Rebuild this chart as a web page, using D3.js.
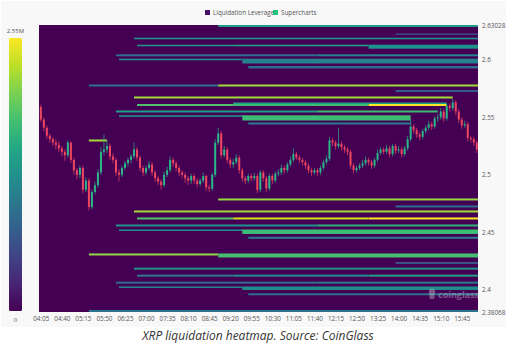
<!DOCTYPE html>
<html><head><meta charset="utf-8">
<script src="https://cdn.jsdelivr.net/npm/d3@7"></script>
<style>
body{margin:0;background:#fff;}
svg{display:block;font-family:'Open Sans',sans-serif;}
</style>
</head><body>
<svg id="chart" width="515" height="344"></svg>
<script>
// ---------- DATA ----------
const timeTicks = ["04:05","04:40","05:15","05:50","06:25","07:00","07:35","08:10","08:45","09:20","09:55","10:30","11:05","11:40","12:15","12:50","13:25","14:00","14:35","15:10","15:45"];
const timeDomain = ["04:02","16:12"];
const priceTicks = [2.63028, 2.6, 2.55, 2.5, 2.45, 2.4, 2.38068];
const priceTickLabels = ["2.63028","2.6","2.55","2.5","2.45","2.4","2.38068"];
const priceDomain = [2.38068, 2.63028];
const colorMax = 2550000;
const colorLabels = ["2.55M","0"];
const legendNames = ["Liquidation Leverage","Supercharts"];
const candleStart = "04:05";
const candleMinutes = 5;

const opens = [2.559,2.548,2.541,2.534,2.531,2.528,2.526,2.523,2.520,2.517,2.528,2.513,2.504,2.500,2.506,2.487,2.495,2.472,2.485,2.491,
2.502,2.520,2.522,2.525,2.516,2.513,2.502,2.500,2.506,2.510,2.513,2.516,2.522,2.515,2.506,2.502,2.506,2.509,2.502,2.497,
2.494,2.491,2.500,2.504,2.513,2.510,2.506,2.502,2.500,2.497,2.495,2.499,2.495,2.492,2.495,2.499,2.489,2.488,2.500,2.528,
2.536,2.517,2.522,2.513,2.509,2.511,2.515,2.504,2.497,2.495,2.499,2.497,2.499,2.487,2.502,2.497,2.488,2.499,2.495,2.501,
2.502,2.506,2.504,2.509,2.513,2.518,2.515,2.513,2.511,2.508,2.504,2.502,2.504,2.502,2.506,2.511,2.514,2.530,2.528,2.525,
2.527,2.524,2.522,2.520,2.508,2.504,2.506,2.508,2.510,2.513,2.511,2.508,2.513,2.519,2.522,2.520,2.523,2.518,2.525,2.521,
2.522,2.518,2.523,2.531,2.542,2.539,2.535,2.533,2.538,2.541,2.544,2.542,2.549,2.550,2.555,2.549,2.560,2.558,2.563,2.555,
2.548,2.543,2.544,2.532,2.531,2.528];
const closes = [2.548,2.541,2.534,2.531,2.528,2.526,2.523,2.520,2.517,2.528,2.513,2.504,2.500,2.506,2.487,2.495,2.472,2.485,2.491,2.502,
2.520,2.522,2.525,2.516,2.513,2.502,2.500,2.506,2.510,2.513,2.516,2.522,2.515,2.506,2.502,2.506,2.509,2.502,2.497,2.494,
2.491,2.500,2.504,2.513,2.510,2.506,2.502,2.500,2.497,2.495,2.499,2.495,2.492,2.495,2.499,2.489,2.488,2.500,2.528,2.536,
2.517,2.522,2.513,2.509,2.511,2.515,2.504,2.497,2.495,2.499,2.497,2.499,2.487,2.502,2.497,2.488,2.499,2.495,2.501,2.502,
2.506,2.504,2.509,2.513,2.518,2.515,2.513,2.511,2.508,2.504,2.502,2.504,2.502,2.506,2.511,2.514,2.530,2.528,2.525,2.527,
2.524,2.522,2.520,2.508,2.504,2.506,2.508,2.510,2.513,2.511,2.508,2.513,2.519,2.522,2.520,2.523,2.518,2.525,2.521,2.522,
2.518,2.523,2.531,2.542,2.539,2.535,2.533,2.538,2.541,2.544,2.542,2.549,2.550,2.555,2.549,2.560,2.558,2.563,2.555,2.548,
2.543,2.544,2.532,2.531,2.528,2.522];
const highs = [2.561,2.550,2.543,2.536,2.533,2.531,2.529,2.525,2.522,2.530,2.529,2.515,2.506,2.508,2.508,2.498,2.497,2.487,2.494,2.505,
2.524,2.535,2.530,2.527,2.519,2.515,2.505,2.508,2.512,2.515,2.518,2.528,2.524,2.517,2.508,2.508,2.512,2.511,2.504,2.499,
2.496,2.503,2.507,2.516,2.515,2.512,2.508,2.504,2.502,2.499,2.501,2.501,2.497,2.497,2.502,2.500,2.491,2.502,2.531,2.541,
2.538,2.525,2.524,2.515,2.514,2.518,2.517,2.506,2.499,2.501,2.501,2.502,2.501,2.504,2.504,2.499,2.501,2.501,2.503,2.505,
2.509,2.508,2.511,2.516,2.523,2.520,2.517,2.515,2.513,2.510,2.506,2.506,2.506,2.508,2.513,2.517,2.533,2.532,2.530,2.541,
2.529,2.526,2.524,2.522,2.510,2.508,2.510,2.513,2.516,2.515,2.513,2.515,2.522,2.524,2.524,2.526,2.525,2.527,2.527,2.525,
2.524,2.525,2.534,2.548,2.544,2.541,2.537,2.540,2.543,2.547,2.546,2.551,2.553,2.558,2.557,2.562,2.562,2.566,2.565,2.557,
2.550,2.547,2.546,2.534,2.533,2.530];
const lows = [2.546,2.538,2.531,2.528,2.525,2.522,2.520,2.516,2.512,2.515,2.510,2.500,2.496,2.497,2.484,2.485,2.469,2.470,2.483,2.489,
2.500,2.517,2.519,2.513,2.510,2.499,2.494,2.498,2.504,2.507,2.510,2.514,2.512,2.503,2.499,2.500,2.504,2.499,2.494,2.491,
2.487,2.489,2.498,2.502,2.507,2.503,2.499,2.497,2.493,2.491,2.492,2.492,2.489,2.490,2.493,2.486,2.485,2.486,2.498,2.526,
2.514,2.515,2.510,2.506,2.506,2.509,2.501,2.494,2.492,2.493,2.494,2.495,2.484,2.485,2.494,2.485,2.486,2.492,2.493,2.499,
2.500,2.501,2.502,2.507,2.511,2.513,2.510,2.508,2.505,2.501,2.499,2.500,2.499,2.500,2.504,2.509,2.512,2.525,2.522,2.523,
2.521,2.519,2.517,2.505,2.501,2.502,2.504,2.506,2.508,2.508,2.505,2.506,2.511,2.517,2.518,2.518,2.515,2.516,2.518,2.519,
2.515,2.516,2.521,2.529,2.536,2.532,2.530,2.531,2.536,2.539,2.539,2.540,2.546,2.548,2.546,2.547,2.555,2.556,2.552,2.545,
2.540,2.541,2.529,2.528,2.525,2.519];

// liquidation bands: price bucket [low, high], time span [from, to], liquidation value (USD)
const bandLow   = [2.62854,2.62170,2.61785,2.61176,2.61176,2.60967,2.60306,2.60306,2.59959,2.59680,2.59246,
                   2.57680,2.57680,2.57202,2.56637,2.55985,2.55985,2.55985,2.56159,2.55419,2.55419,2.55046,2.54724,2.54376,2.52898,
                   2.47767,2.47158,2.46724,2.46115,2.46115,2.46115,2.45506,2.45506,2.45115,2.44854,2.44437,
                   2.42985,2.42811,2.42246,2.41750,2.41141,2.41141,2.41141,2.40532,2.40532,2.40159,2.39985,2.39524,2.38071];
const bandHigh  = [2.63028,2.62289,2.61924,2.61315,2.61315,2.61315,2.60480,2.60480,2.60098,2.60098,2.59463,
                   2.57854,2.57854,2.57376,2.56811,2.56159,2.56159,2.56159,2.56289,2.55593,2.55593,2.55176,2.55176,2.54550,2.53072,
                   2.47941,2.47332,2.46898,2.46289,2.46289,2.46289,2.45680,2.45680,2.45245,2.45245,2.44611,
                   2.43159,2.43159,2.42420,2.41924,2.41315,2.41315,2.41315,2.40706,2.40706,2.40289,2.40289,2.39698,2.38246];
const bandFrom  = ["09:00","13:55","06:40","06:45","09:25","13:10","06:10","11:45","06:15","09:40","09:50",
                   "05:25","09:00","13:55","06:40","06:45","09:25","13:10","09:25","06:10","11:45","06:15","09:40","09:50","05:25",
                   "09:00","13:55","06:40","06:45","09:25","13:10","06:10","11:45","06:15","09:40","09:50",
                   "05:25","09:00","13:55","06:40","06:45","09:25","13:10","06:10","11:45","06:15","09:40","09:50","05:25"];
const bandTo    = ["16:12","16:12","16:12","09:25","13:10","16:12","11:45","16:12","09:40","16:12","16:12",
                   "09:00","16:12","16:12","15:30","09:25","13:10","15:20","15:20","11:45","15:05","09:40","14:20","14:20","05:55",
                   "16:12","16:12","16:12","09:25","13:10","16:12","11:45","16:12","09:40","16:12","16:12",
                   "09:00","16:12","16:12","16:12","09:25","13:10","16:12","11:45","16:12","09:40","16:12","16:12","16:12"];
const bandValue = [1400000,650000,1300000,1300000,1450000,1300000,900000,1150000,1250000,1100000,900000,
                   950000,2200000,750000,2200000,1850000,1750000,2550000,1450000,1450000,1750000,1350000,1750000,1050000,2200000,
                   2150000,900000,2200000,1850000,2400000,2550000,1300000,1650000,1300000,1750000,1050000,
                   2150000,1800000,650000,1300000,1000000,1250000,1450000,900000,1050000,1200000,1250000,900000,1000000];

// ---------- CHART ----------
const svg = d3.select("#chart");
const toMin = s => { const [h,m] = s.split(":").map(Number); return h*60+m; };
const plotL = 39, plotR = 478, plotT = 25, plotB = 312;

svg.append("rect").attr("width",515).attr("height",344).attr("fill","#ffffff");
svg.append("rect").attr("x",1).attr("y",1).attr("width",505).attr("height",326).attr("fill","#f8f8f8");

const x = d3.scaleLinear().domain(timeDomain.map(toMin)).range([plotL,plotR]);
const y = d3.scaleLinear().domain(priceDomain).range([plotB,plotT]);
const color = d3.scaleSequential(d3.interpolateViridis).domain([0,colorMax]);

svg.append("rect").attr("x",plotL).attr("y",plotT).attr("width",plotR-plotL).attr("height",plotB-plotT)
  .attr("fill",color(0));

svg.append("clipPath").attr("id","pc").append("rect")
  .attr("x",plotL).attr("y",plotT).attr("width",plotR-plotL).attr("height",plotB-plotT);
const plot = svg.append("g").attr("clip-path","url(#pc)");

// bands
const bands = bandValue.map((v,i)=>({lo:bandLow[i],hi:bandHigh[i],f:toMin(bandFrom[i]),t:toMin(bandTo[i]),v}));
plot.selectAll("rect.band").data(bands).join("rect").attr("class","band")
  .attr("x",d=>x(d.f)).attr("width",d=>x(d.t)-x(d.f))
  .attr("y",d=>y(d.hi)).attr("height",d=>y(d.lo)-y(d.hi))
  .attr("fill",d=>color(d.v));

// candles
const t0 = toMin(candleStart);
const candles = closes.map((c,i)=>({t:t0+i*candleMinutes,o:opens[i],c,h:highs[i],l:lows[i]}));
const up = "#2bb68a", down = "#ee4560";
const cg = plot.append("g");
cg.selectAll("line").data(candles).join("line")
  .attr("x1",d=>x(d.t)).attr("x2",d=>x(d.t))
  .attr("y1",d=>y(d.h)).attr("y2",d=>y(d.l))
  .attr("stroke",d=>d.c>=d.o?up:down).attr("stroke-width",0.8).attr("opacity",0.85);
cg.selectAll("rect").data(candles).join("rect")
  .attr("x",d=>x(d.t)-1).attr("width",2)
  .attr("y",d=>y(Math.max(d.o,d.c)))
  .attr("height",d=>Math.max(1,Math.abs(y(d.o)-y(d.c))))
  .attr("fill",d=>d.c>=d.o?up:down);

// watermark
const wm = svg.append("g").attr("opacity",0.35);
wm.append("circle").attr("cx",432).attr("cy",292).attr("r",3.2).attr("fill","#e8e8e8");
wm.append("rect").attr("x",429.5).attr("y",293).attr("width",5).attr("height",6).attr("rx",1).attr("fill","#e8e8e8");
wm.append("text").attr("x",438).attr("y",298).attr("font-size",9).attr("font-weight",700)
  .attr("fill","#e8e8e8").text("coinglass");

// axes
const yAxis = svg.append("g").attr("transform",`translate(${plotR},0)`)
  .call(d3.axisRight(y).tickValues(priceTicks).tickFormat((d,i)=>priceTickLabels[i]).tickSize(0).tickPadding(4));
yAxis.select(".domain").remove();
yAxis.selectAll("text").attr("font-size",6.3).attr("fill","#555").attr("font-family","'Open Sans',sans-serif");

const xAxis = svg.append("g").attr("transform",`translate(0,${plotB})`)
  .call(d3.axisBottom(x).tickValues(timeTicks.map(toMin)).tickFormat((d,i)=>timeTicks[i]).tickSize(0).tickPadding(5));
xAxis.select(".domain").remove();
xAxis.selectAll("text").attr("font-size",6.3).attr("fill","#555").attr("font-family","'Open Sans',sans-serif");

// color bar
const defs = svg.append("defs");
const grad = defs.append("linearGradient").attr("id","cb").attr("x1",0).attr("y1",1).attr("x2",0).attr("y2",0);
d3.range(0,1.0001,0.1).forEach(s=>grad.append("stop").attr("offset",s).attr("stop-color",color(s*colorMax)));
svg.append("rect").attr("x",9).attr("y",38).attr("width",13).attr("height",273).attr("rx",1.5).attr("fill","url(#cb)");
svg.append("text").attr("x",15.5).attr("y",33).attr("text-anchor","middle").attr("font-size",6)
  .attr("fill","#555").text(colorLabels[0]);
svg.append("text").attr("x",15.5).attr("y",322).attr("text-anchor","middle").attr("font-size",6)
  .attr("fill","#555").text(colorLabels[1]);

// legend
const lg = svg.append("g");
lg.append("rect").attr("x",205).attr("y",10).attr("width",5).attr("height",5).attr("fill","#4a1068");
lg.append("text").attr("x",213).attr("y",14.5).attr("font-size",6.3).attr("fill","#555").text(legendNames[0]);
lg.append("rect").attr("x",273).attr("y",10).attr("width",5).attr("height",5).attr("fill","#22c37a");
lg.append("text").attr("x",281).attr("y",14.5).attr("font-size",6.3).attr("fill","#555").text(legendNames[1]);

// caption
svg.append("text").attr("x",258).attr("y",340).attr("text-anchor","middle")
  .attr("font-size",12).attr("font-style","italic").attr("fill","#333")
  .text("XRP liquidation heatmap. Source: CoinGlass");
</script>
</body></html>
